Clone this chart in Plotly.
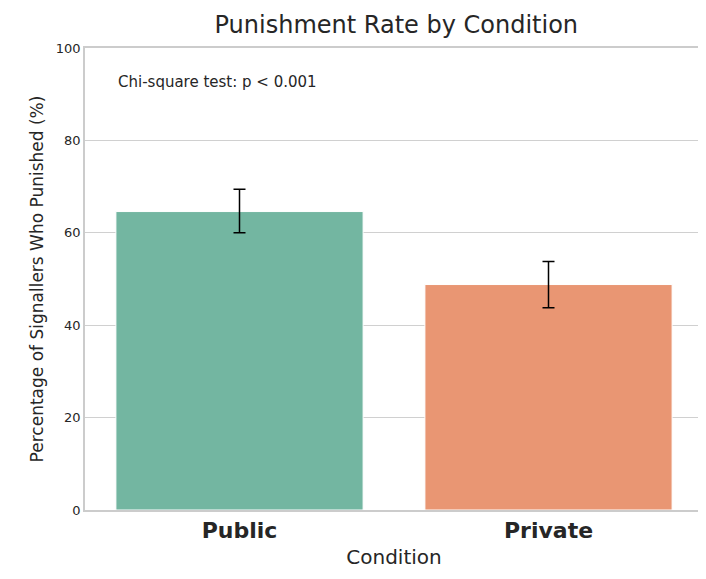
import plotly.graph_objects as go

conditions = ["Public", "Private"]
rates = [64.6, 48.8]
err_upper = [69.4, 53.8]
err_lower = [60.0, 43.8]
colors = ["#73b6a1", "#e99673"]

fig = go.Figure()
fig.add_trace(go.Bar(
    x=conditions,
    y=rates,
    width=0.8,
    marker=dict(color=colors, line=dict(color="white", width=1)),
    error_y=dict(
        type="data",
        symmetric=False,
        array=[u - r for u, r in zip(err_upper, rates)],
        arrayminus=[r - l for r, l in zip(rates, err_lower)],
        color="black",
        thickness=1.5,
        width=6,
    ),
    showlegend=False,
))

fig.add_annotation(
    text="Chi-square test: p < 0.001",
    x=0.05, y=0.95, xref="paper", yref="paper",
    xanchor="left", yanchor="top", showarrow=False,
    font=dict(size=15, color="#262626"),
)

fig.update_layout(
    width=706, height=579,
    font=dict(family="DejaVu Sans", color="#262626"),
    title=dict(text="Punishment Rate by Condition", x=0.55, xanchor="center",
               y=0.985, yanchor="top", font=dict(size=24)),
    paper_bgcolor="white",
    plot_bgcolor="white",
    margin=dict(l=77, r=9, t=40, b=77),
    xaxis=dict(
        title=dict(text="Condition", font=dict(size=20), standoff=8),
        tickfont=dict(size=22, family="DejaVu Sans", weight="bold"),
        ticktext=["<b>Public</b>", "<b>Private</b>"],
        tickvals=conditions,
        showline=True, linecolor="#cccccc", mirror=True, linewidth=1.5,
        range=[-0.5, 1.5],
    ),
    yaxis=dict(
        title=dict(text="Percentage of Signallers Who Punished (%)", font=dict(size=17), standoff=8),
        range=[0, 100], dtick=20,
        tickfont=dict(size=13),
        showgrid=True, gridcolor="#d0d0d0", gridwidth=1.2,
        zeroline=False,
        showline=True, linecolor="#cccccc", mirror=True, linewidth=1.5,
    ),
)

fig.write_html("out.html")
